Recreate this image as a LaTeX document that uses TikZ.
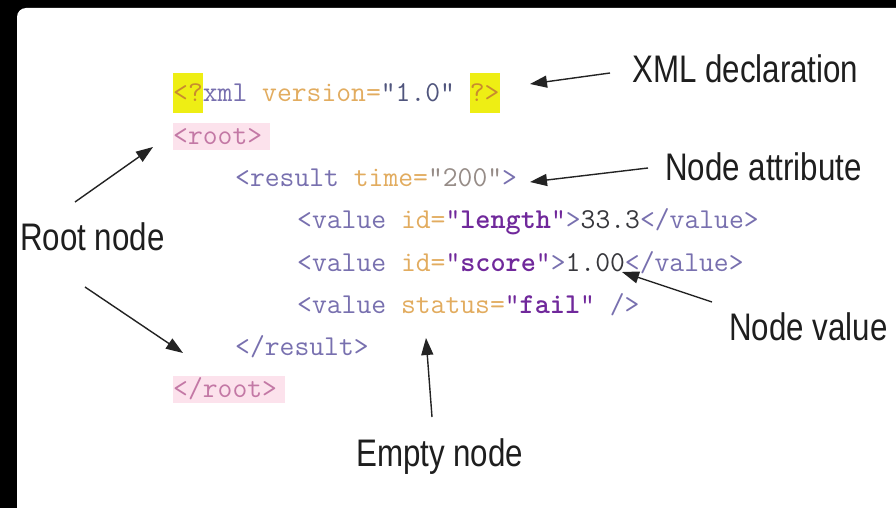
\documentclass[tikz,border=0pt]{standalone}
\usepackage{fontspec}
\usetikzlibrary{arrows.meta}
\newfontfamily\labfont[FakeStretch=0.815]{Liberation Sans}
\definecolor{tagc}{RGB}{120,112,175}
\definecolor{rootc}{RGB}{195,120,165}
\definecolor{rootbg}{RGB}{252,226,236}
\definecolor{attrc}{RGB}{226,172,95}
\definecolor{qmc}{RGB}{200,140,45}
\definecolor{strc}{RGB}{112,40,155}
\definecolor{valc}{RGB}{55,55,60}
\definecolor{verc}{RGB}{80,85,125}
\definecolor{numc}{RGB}{150,140,135}
\definecolor{yhl}{RGB}{238,238,20}
\definecolor{labc}{RGB}{30,30,30}
\definecolor{arrc}{RGB}{35,35,35}
\newcommand{\hlyel}[1]{{\setlength{\fboxsep}{0pt}\colorbox{yhl}{\rule[-11pt]{0pt}{40pt}#1}}}
\newcommand{\hlroot}[1]{{\setlength{\fboxsep}{0pt}\colorbox{rootbg}{\rule[-6pt]{0pt}{27pt}#1\hspace{8pt}}}}
\tikzset{
  codeline/.style={inner sep=0pt, anchor=base west, font=\fontsize{28.8pt}{30pt}\selectfont\ttfamily},
  lab/.style={inner sep=0pt, anchor=base west, text=labc, font=\fontsize{38.4pt}{40pt}\selectfont\labfont},
  ptr/.style={draw=arrc, line width=1.4pt, -{Triangle[length=17pt,width=12pt]}}
}
\begin{document}
\begin{tikzpicture}[x=1pt, y=-1pt]
\useasboundingbox (0,0) rectangle (896,508);
\fill[black] (0,0) rectangle (896,508);
\fill[white, rounded corners=9pt] (17,8) rectangle (920,530);

% code lines
\node[codeline] (l1) at (173,102) {\hlyel{\textcolor{qmc}{<?}}\textcolor{tagc}{xml} \textcolor{attrc}{version=}\textcolor{verc}{"1.0"} \hlyel{\textcolor{qmc}{?>}}};
\node[codeline] (l2) at (173,144) {\hlroot{\textcolor{rootc}{<root>}}};
\node[codeline] (l3) at (235,186) {\textcolor{tagc}{<result} \textcolor{attrc}{time=}\textcolor{numc}{"200"}\textcolor{tagc}{>}};
\node[codeline] (l4) at (297,228) {\textcolor{tagc}{<value} \textcolor{attrc}{id=}\textcolor{strc}{"\textbf{length}"}\textcolor{tagc}{>}\textcolor{valc}{33.3}\textcolor{tagc}{</value>}};
\node[codeline] (l5) at (297,271) {\textcolor{tagc}{<value} \textcolor{attrc}{id=}\textcolor{strc}{"\textbf{score}"}\textcolor{tagc}{>}\textcolor{valc}{1.00}\textcolor{tagc}{</value>}};
\node[codeline] (l6) at (297,313) {\textcolor{tagc}{<value} \textcolor{attrc}{status=}\textcolor{strc}{"\textbf{fail}"} \textcolor{tagc}{/>}};
\node[codeline] (l7) at (235,355) {\textcolor{tagc}{</result>}};
\node[codeline] (l8) at (173,397) {\hlroot{\textcolor{rootc}{</root>}}};

% labels
\node[lab] (xmldecl) at (632,83) {XML declaration};
\node[lab] (nattr) at (665,180) {Node attribute};
\node[lab] (rootn) at (20,250) {Root node};
\node[lab] (nval) at (729,340) {Node value};
\node[lab] (empty) at (356,466) {Empty node};

% arrow ends
\coordinate (declT) at (610,73);  \coordinate (declH) at (530,84);
\coordinate (attrT) at (648,168); \coordinate (attrH) at (530,182);
\coordinate (rupT) at (75,202);   \coordinate (rupH) at (153,147);
\coordinate (rdnT) at (85,287);   \coordinate (rdnH) at (183,353);
\coordinate (valT) at (712,302);  \coordinate (valH) at (622,272);
\coordinate (empT) at (432,417);  \coordinate (empH) at (426,338);

\draw[ptr] (declT) -- (declH);
\draw[ptr] (attrT) -- (attrH);
\draw[ptr] (rupT) -- (rupH);
\draw[ptr] (rdnT) -- (rdnH);
\draw[ptr] (valT) -- (valH);
\draw[ptr] (empT) -- (empH);
\end{tikzpicture}
\end{document}
